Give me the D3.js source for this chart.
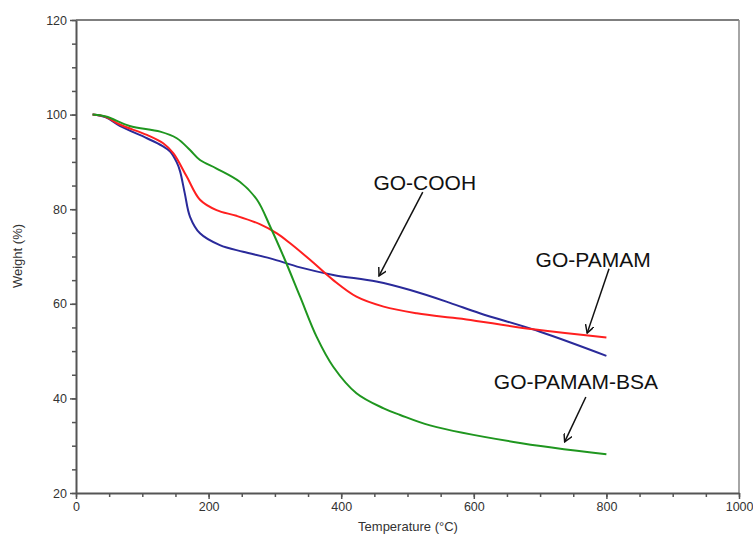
<!DOCTYPE html>
<html>
<head>
<meta charset="utf-8">
<script src="https://cdn.jsdelivr.net/npm/d3@7"></script>
<style>
  body { margin: 0; background: #fff; }
  svg { display: block; }
  .tick text { font-family: "Liberation Sans", Arial, sans-serif; font-size: 12.5px; fill: #333; }
</style>
</head>
<body>
<svg width="753" height="537"></svg>
<script>
// temperature (°C) vs weight (%)
const cooh = [[25,100],[45,99.4],[66,97.6],[107,95.0],[130,93.4],[142,92.2],[152,89.9],[157,88.0],[164,83.4],[172,78.4],[187,74.9],[217,72.4],[252,71.0],[293,69.6],[338,67.7],[388,66.1],[453,64.7],[504,62.9],[564,60.2],[609,58.0],[700,54.1],[800,49.0]];
const pamam = [[25,100],[45,99.5],[66,97.9],[107,95.7],[132,93.9],[147,91.8],[167,86.9],[187,82.0],[212,79.8],[242,78.6],[278,76.8],[303,74.9],[323,72.8],[353,69.3],[388,65.0],[423,61.5],[464,59.4],[514,58.0],[564,57.1],[589,56.7],[690,54.6],[800,52.9]];
const bsa = [[25,100],[45,99.6],[81,97.6],[127,96.4],[152,95.0],[172,92.5],[187,90.4],[212,88.6],[247,85.8],[273,82.0],[293,76.3],[313,70.0],[338,61.5],[363,53.0],[388,46.7],[423,41.1],[464,37.9],[489,36.5],[534,34.3],[660,30.8],[800,28.2]];

const seriesNames = ['GO-COOH', 'GO-PAMAM', 'GO-PAMAM-BSA'];
const seriesColors = ['#2a2a9a', '#ff1f1f', '#1f961f'];
const xTicks = [0, 200, 400, 600, 800, 1000];
const yTicks = [20, 40, 60, 80, 100, 120];

// label text position and arrow (from, to) in data units
const notes = [
  { text: 'GO-COOH', at: [526, 84.1], from: [523, 83.6], to: [457, 65.9] },
  { text: 'GO-PAMAM', at: [780, 67.8], from: [804, 67.4], to: [771, 53.8] },
  { text: 'GO-PAMAM-BSA', at: [754, 42.0], from: [769, 40.3], to: [737, 30.8] }
];

const svg = d3.select('svg');
const mLeft = 76, mRight = 739, mTop = 20, mBottom = 493;

const x = d3.scaleLinear().domain([0, 1000]).range([mLeft, mRight]);
const y = d3.scaleLinear().domain([20, 120]).range([mBottom, mTop]);

// frame
svg.append('line').attr('x1', mLeft).attr('x2', mRight).attr('y1', mTop).attr('y2', mTop)
  .attr('stroke', '#555').attr('stroke-width', 1.5);
svg.append('line').attr('x1', mRight).attr('x2', mRight).attr('y1', mTop).attr('y2', mBottom)
  .attr('stroke', '#888').attr('stroke-width', 1.5);

// minor ticks
svg.append('g').attr('transform', `translate(0,${mBottom})`)
  .call(d3.axisBottom(x).tickValues(d3.range(0, 1001, 50)).tickSize(4).tickFormat(''))
  .call(g => g.select('.domain').remove())
  .selectAll('line').attr('stroke', '#555').attr('stroke-width', 1.5);
svg.append('g').attr('transform', `translate(${mLeft},0)`)
  .call(d3.axisLeft(y).tickValues(d3.range(20, 121, 5)).tickSize(4).tickFormat(''))
  .call(g => g.select('.domain').remove())
  .selectAll('line').attr('stroke', '#555').attr('stroke-width', 1.5);

// major axes
const xAxis = svg.append('g').attr('transform', `translate(0,${mBottom})`)
  .call(d3.axisBottom(x).tickValues(xTicks).tickFormat(d3.format('d')).tickSize(6).tickSizeOuter(0).tickPadding(3));
const yAxis = svg.append('g').attr('transform', `translate(${mLeft},0)`)
  .call(d3.axisLeft(y).tickValues(yTicks).tickSize(6).tickSizeOuter(0).tickPadding(3));
[xAxis, yAxis].forEach(a => {
  a.select('.domain').attr('stroke', '#555').attr('stroke-width', 2);
  a.selectAll('.tick line').attr('stroke', '#555').attr('stroke-width', 1.5);
});
// last x label would run off the edge; keep its right end on the page
xAxis.selectAll('.tick text').filter(d => d === 1000).attr('text-anchor', 'end').attr('dx', 14);

svg.append('text')
  .attr('transform', 'translate(22,256) rotate(-90)')
  .attr('text-anchor', 'middle')
  .attr('font-family', 'Liberation Sans, Arial, sans-serif')
  .attr('font-size', 13).attr('fill', '#333')
  .text('Weight (%)');
svg.append('text')
  .attr('x', 408).attr('y', 531)
  .attr('text-anchor', 'middle')
  .attr('font-family', 'Liberation Sans, Arial, sans-serif')
  .attr('font-size', 13).attr('fill', '#333')
  .text('Temperature (°C)');

// curves
const line = d3.line().x(d => x(d[0])).y(d => y(d[1])).curve(d3.curveCatmullRom.alpha(0.5));
[cooh, pamam, bsa].forEach((data, i) => {
  svg.append('path')
    .datum(data)
    .attr('fill', 'none')
    .attr('stroke', seriesColors[i])
    .attr('stroke-width', 2)
    .attr('d', line)
    .append('title').text(seriesNames[i]);
});

// arrows
svg.append('defs').append('marker')
  .attr('id', 'head')
  .attr('viewBox', '0 0 10 10')
  .attr('refX', 9).attr('refY', 5)
  .attr('markerWidth', 9).attr('markerHeight', 9)
  .attr('markerUnits', 'userSpaceOnUse')
  .attr('orient', 'auto')
  .append('path')
  .attr('d', 'M0,0 L9,5 L0,10')
  .attr('fill', 'none').attr('stroke', '#111').attr('stroke-width', 1.6);

notes.forEach(n => {
  svg.append('text')
    .attr('x', x(n.at[0])).attr('y', y(n.at[1]))
    .attr('text-anchor', 'middle')
    .attr('font-family', 'Liberation Sans, Arial, sans-serif')
    .attr('font-size', 21).attr('fill', '#111')
    .text(n.text);
  svg.append('line')
    .attr('x1', x(n.from[0])).attr('y1', y(n.from[1]))
    .attr('x2', x(n.to[0])).attr('y2', y(n.to[1]))
    .attr('stroke', '#111').attr('stroke-width', 1.5)
    .attr('marker-end', 'url(#head)');
});
</script>
</body>
</html>
